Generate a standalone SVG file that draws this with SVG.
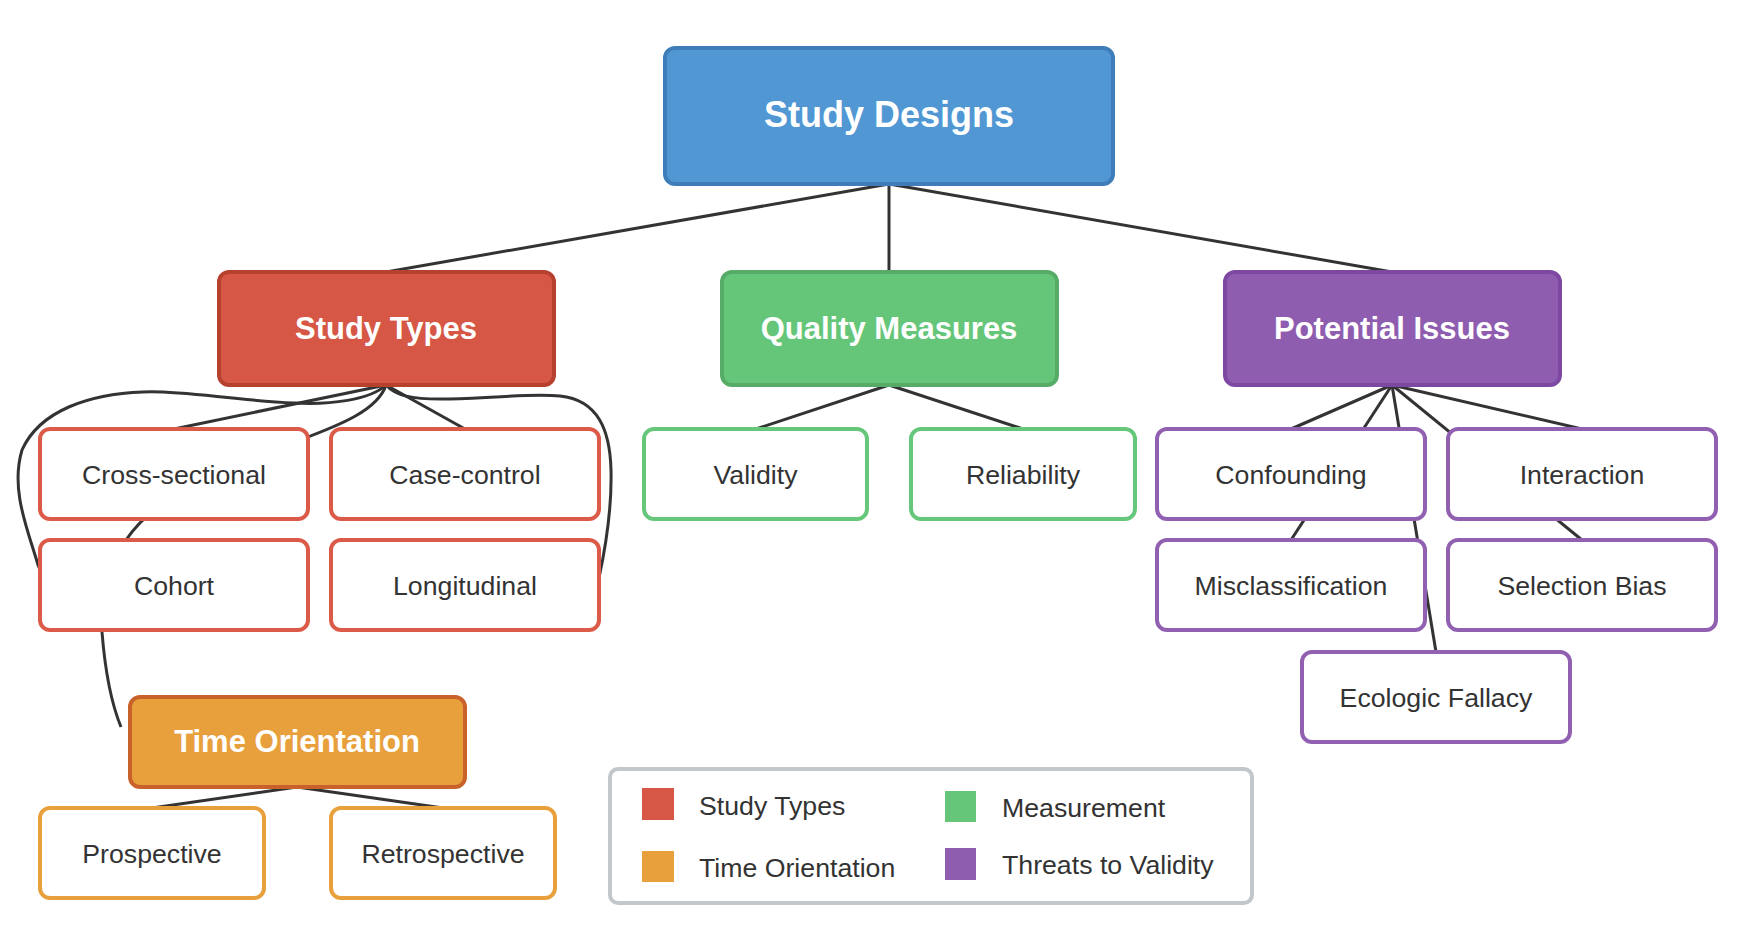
<svg xmlns="http://www.w3.org/2000/svg" width="1746" height="944" viewBox="0 0 1746 944">
<style>
  .edge{fill:none;stroke:#333;stroke-width:3}
  .top{stroke-width:4}
  .toptxt{font-family:"Liberation Sans",Arial,sans-serif;font-weight:bold;fill:#fff;text-anchor:middle}
  .child{fill:#fff;stroke-width:4}
  .ctxt{font-family:"Liberation Sans",Arial,sans-serif;font-size:26.7px;fill:#333;text-anchor:middle}
  .red{stroke:#dc5a48}
  .green{stroke:#66c77a}
  .purple{stroke:#9160b1}
  .orange{stroke:#e8a03c}
  .ltxt{font-family:"Liberation Sans",Arial,sans-serif;font-size:26.7px;fill:#333}
</style>
<rect width="1746" height="944" fill="#fff"/>
<g id="connectors">
  <line class="edge" x1="889" y1="184" x2="386" y2="272"/>
  <line class="edge" x1="889" y1="184" x2="889" y2="272"/>
  <line class="edge" x1="889" y1="184" x2="1392" y2="272"/>
  <line class="edge" x1="386" y1="385" x2="174" y2="429"/>
  <line class="edge" x1="386" y1="385" x2="465" y2="429"/>
  <path class="edge" d="M386,385 C378,410 340,425 300,440 C230,465 160,490 126,540"/>
  <path class="edge" d="M386,385 C370,400 330,405 294,403 C230,400 180,390 143,392 C90,394 40,410 22,450 C10,490 28,530 38,565 C50,600 98,610 102,632 C105,670 112,705 121,727"/>
  <path class="edge" d="M386,385 C395,395 410,400 449,399 C500,398 530,393 560,396 C598,400 610,430 611,470 C612,510 605,550 599,578"/>
  <line class="edge" x1="889" y1="385" x2="756" y2="429"/>
  <line class="edge" x1="889" y1="385" x2="1023" y2="429"/>
  <line class="edge" x1="1392" y1="385" x2="1291" y2="429"/>
  <line class="edge" x1="1392" y1="385" x2="1291" y2="540"/>
  <line class="edge" x1="1392" y1="385" x2="1436" y2="652"/>
  <line class="edge" x1="1392" y1="385" x2="1582" y2="540"/>
  <line class="edge" x1="1392" y1="385" x2="1582" y2="429"/>
  <line class="edge" x1="297" y1="787" x2="152" y2="808"/>
  <line class="edge" x1="297" y1="787" x2="443" y2="808"/>
</g>
<g id="study-designs">
  <rect class="top" x="665" y="48" width="448" height="136" rx="10" fill="#5097d4" stroke="#3e7cba"/>
  <text class="toptxt" x="889" y="127" font-size="36">Study Designs</text>
</g>
<g id="study-types">
  <rect class="top" x="219" y="272" width="335" height="113" rx="10" fill="#d65745" stroke="#b6412f"/>
  <text class="toptxt" x="386" y="339" font-size="31">Study Types</text>
</g>
<g id="quality-measures">
  <rect class="top" x="722" y="272" width="335" height="113" rx="10" fill="#65c67a" stroke="#56ab67"/>
  <text class="toptxt" x="889" y="339" font-size="31">Quality Measures</text>
</g>
<g id="potential-issues">
  <rect class="top" x="1225" y="272" width="335" height="113" rx="10" fill="#8f5db0" stroke="#7c48a1"/>
  <text class="toptxt" x="1392" y="339" font-size="31">Potential Issues</text>
</g>
<g id="cross-sectional">
  <rect class="child red" x="40" y="429" width="268" height="90" rx="10"/>
  <text class="ctxt" x="174" y="484">Cross-sectional</text>
</g>
<g id="case-control">
  <rect class="child red" x="331" y="429" width="268" height="90" rx="10"/>
  <text class="ctxt" x="465" y="484">Case-control</text>
</g>
<g id="cohort">
  <rect class="child red" x="40" y="540" width="268" height="90" rx="10"/>
  <text class="ctxt" x="174" y="595">Cohort</text>
</g>
<g id="longitudinal">
  <rect class="child red" x="331" y="540" width="268" height="90" rx="10"/>
  <text class="ctxt" x="465" y="595">Longitudinal</text>
</g>
<g id="validity">
  <rect class="child green" x="644" y="429" width="223" height="90" rx="10"/>
  <text class="ctxt" x="755.5" y="484">Validity</text>
</g>
<g id="reliability">
  <rect class="child green" x="911" y="429" width="224" height="90" rx="10"/>
  <text class="ctxt" x="1023" y="484">Reliability</text>
</g>
<g id="confounding">
  <rect class="child purple" x="1157" y="429" width="268" height="90" rx="10"/>
  <text class="ctxt" x="1291" y="484">Confounding</text>
</g>
<g id="interaction">
  <rect class="child purple" x="1448" y="429" width="268" height="90" rx="10"/>
  <text class="ctxt" x="1582" y="484">Interaction</text>
</g>
<g id="misclassification">
  <rect class="child purple" x="1157" y="540" width="268" height="90" rx="10"/>
  <text class="ctxt" x="1291" y="595">Misclassification</text>
</g>
<g id="selection-bias">
  <rect class="child purple" x="1448" y="540" width="268" height="90" rx="10"/>
  <text class="ctxt" x="1582" y="595">Selection Bias</text>
</g>
<g id="ecologic-fallacy">
  <rect class="child purple" x="1302" y="652" width="268" height="90" rx="10"/>
  <text class="ctxt" x="1436" y="707">Ecologic Fallacy</text>
</g>
<g id="time-orientation">
  <rect class="top" x="130" y="697" width="335" height="90" rx="10" fill="#e8a03c" stroke="#c9612b"/>
  <text class="toptxt" x="297" y="752" font-size="31">Time Orientation</text>
</g>
<g id="prospective">
  <rect class="child orange" x="40" y="808" width="224" height="90" rx="10"/>
  <text class="ctxt" x="152" y="863">Prospective</text>
</g>
<g id="retrospective">
  <rect class="child orange" x="331" y="808" width="224" height="90" rx="10"/>
  <text class="ctxt" x="443" y="863">Retrospective</text>
</g>
<g id="legend">
  <rect x="610" y="769" width="642" height="134" rx="8" fill="#fff" stroke="#c2c7cb" stroke-width="4"/>
  <rect x="642" y="788" width="32" height="32" fill="#d65745"/>
  <text class="ltxt" x="699" y="815">Study Types</text>
  <rect x="945" y="791" width="31" height="31" fill="#65c67a"/>
  <text class="ltxt" x="1002" y="817">Measurement</text>
  <rect x="642" y="851" width="32" height="31" fill="#e8a03c"/>
  <text class="ltxt" x="699" y="877">Time Orientation</text>
  <rect x="945" y="848" width="31" height="32" fill="#8f5db0"/>
  <text class="ltxt" x="1002" y="874">Threats to Validity</text>
</g>
</svg>
